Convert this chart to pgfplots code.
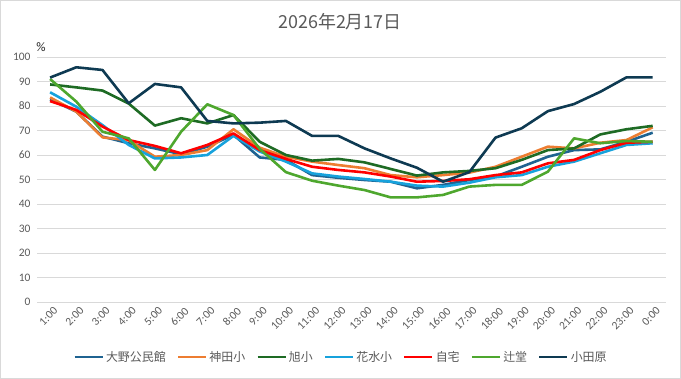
\documentclass[border=0pt]{standalone}
\usepackage{pgfplots}
\usepackage{pgfplotstable}
\pgfplotsset{compat=1.18}
\usepackage{fontspec}
\setmainfont{Carlito}
\newfontfamily\jp{Noto Sans CJK JP}
\definecolor{cOono}{HTML}{1F6391}
\definecolor{cKanda}{HTML}{ED7D31}
\definecolor{cAsahi}{HTML}{1E6B24}
\definecolor{cHana}{HTML}{17A2DC}
\definecolor{cJitaku}{HTML}{FF0000}
\definecolor{cTsuji}{HTML}{4EA72E}
\definecolor{cOda}{HTML}{0E3A52}
\definecolor{gridgray}{HTML}{D9D9D9}
\definecolor{labelgray}{HTML}{595959}

\pgfplotstableread{
idx oono kanda asahi hana jitaku tsuji oda
0  82.7 83.5 88.8 85.6 82.0 91.0 91.6
1  77.7 77.7 87.6 79.7 78.4 81.8 95.8
2  67.5 67.2 86.3 72.2 71.6 69.5 94.7
3  64.8 66.0 81.0 64.1 66.1 66.8 81.1
4  62.7 59.3 72.0 58.6 63.7 53.9 89.0
5  60.3 60.0 75.0 59.0 60.7 69.5 87.6
6  63.4 62.0 72.9 60.0 64.1 80.7 73.9
7  68.2 70.5 76.3 67.8 68.8 76.3 72.9
8  59.0 63.0 65.4 61.4 62.0 62.5 73.2
9  58.0 59.3 60.0 57.3 58.4 53.0 73.9
10 51.8 57.3 57.7 52.5 55.2 49.5 67.8
11 50.7 55.9 58.4 51.2 53.9 47.5 67.8
12 49.8 54.6 57.0 50.2 52.9 45.7 62.7
13 49.1 51.8 54.3 49.1 51.2 42.7 58.6
14 46.4 50.9 51.6 47.5 49.1 42.7 54.8
15 47.8 51.8 52.9 47.1 49.4 43.7 49.1
16 49.8 52.8 53.5 48.7 50.1 47.1 53.0
17 51.2 55.2 54.6 50.9 51.8 47.8 67.1
18 55.2 59.3 58.0 51.8 52.9 47.8 70.9
19 59.3 63.4 62.0 55.2 56.6 53.2 77.9
20 62.0 62.7 62.7 57.3 58.0 66.8 80.8
21 62.3 65.0 68.4 60.7 62.0 64.8 85.8
22 65.4 66.1 70.5 64.1 65.0 65.7 91.7
23 69.1 71.3 71.9 64.8 65.4 65.4 91.7
}\datatable

\begin{document}
\begin{tikzpicture}
\path[use as bounding box] (0,0) rectangle (681bp,379bp);
\draw[gridgray, line width=0.8bp] (0.5bp,0.5bp) rectangle (680.5bp,378.5bp);
\node[text=labelgray, font=\jp\fontsize{18}{20}\selectfont] at (340bp,357bp) {2026年2月17日};
\node[font=\fontsize{13}{15}\selectfont, text=black!85] at (41bp,332bp) {\%};
\begin{axis}[
  at={(37bp,77bp)}, anchor=south west,
  scale only axis, width=628.8bp, height=245bp,
  xmin=-0.5, xmax=23.5, ymin=0, ymax=100,
  ytick={0,10,...,100},
  xtick={0,...,23},
  xticklabels={1:00,2:00,3:00,4:00,5:00,6:00,7:00,8:00,9:00,10:00,11:00,12:00,13:00,14:00,15:00,16:00,17:00,18:00,19:00,20:00,21:00,22:00,23:00,0:00},
  ymajorgrids,
  major grid style={draw=gridgray, line width=0.8bp},
  axis line style={draw=none},
  major tick length=0pt,
  /pgf/number format/assume math mode=true,
  ticklabel style={font=\fontsize{11.5}{13}\selectfont, text=labelgray},
  yticklabel style={xshift=-3bp},
  xticklabel style={rotate=45, anchor=north east, inner sep=1bp, yshift=-4bp},
  legend columns=7,
  legend style={at={(0.4835,-0.224)}, anchor=center, draw=none, fill=none,
    font=\jp\fontsize{12}{14}\selectfont, text=labelgray,
    /tikz/every even column/.append style={column sep=9bp},
    /tikz/every odd column/.append style={column sep=0bp}},
  legend image code/.code={\draw[#1] (0bp,0bp) -- (28bp,0bp);},
  every axis plot/.append style={line width=2.6bp, line join=round, mark=none},
]
\addplot[cOono] table[x=idx, y=oono] {\datatable}; \addlegendentry{大野公民館}
\addplot[cKanda] table[x=idx, y=kanda] {\datatable}; \addlegendentry{神田小}
\addplot[cAsahi] table[x=idx, y=asahi] {\datatable}; \addlegendentry{旭小}
\addplot[cHana] table[x=idx, y=hana] {\datatable}; \addlegendentry{花水小}
\addplot[cJitaku] table[x=idx, y=jitaku] {\datatable}; \addlegendentry{自宅}
\addplot[cTsuji] table[x=idx, y=tsuji] {\datatable}; \addlegendentry{辻堂}
\addplot[cOda] table[x=idx, y=oda] {\datatable}; \addlegendentry{小田原}
\end{axis}
\end{tikzpicture}
\end{document}
